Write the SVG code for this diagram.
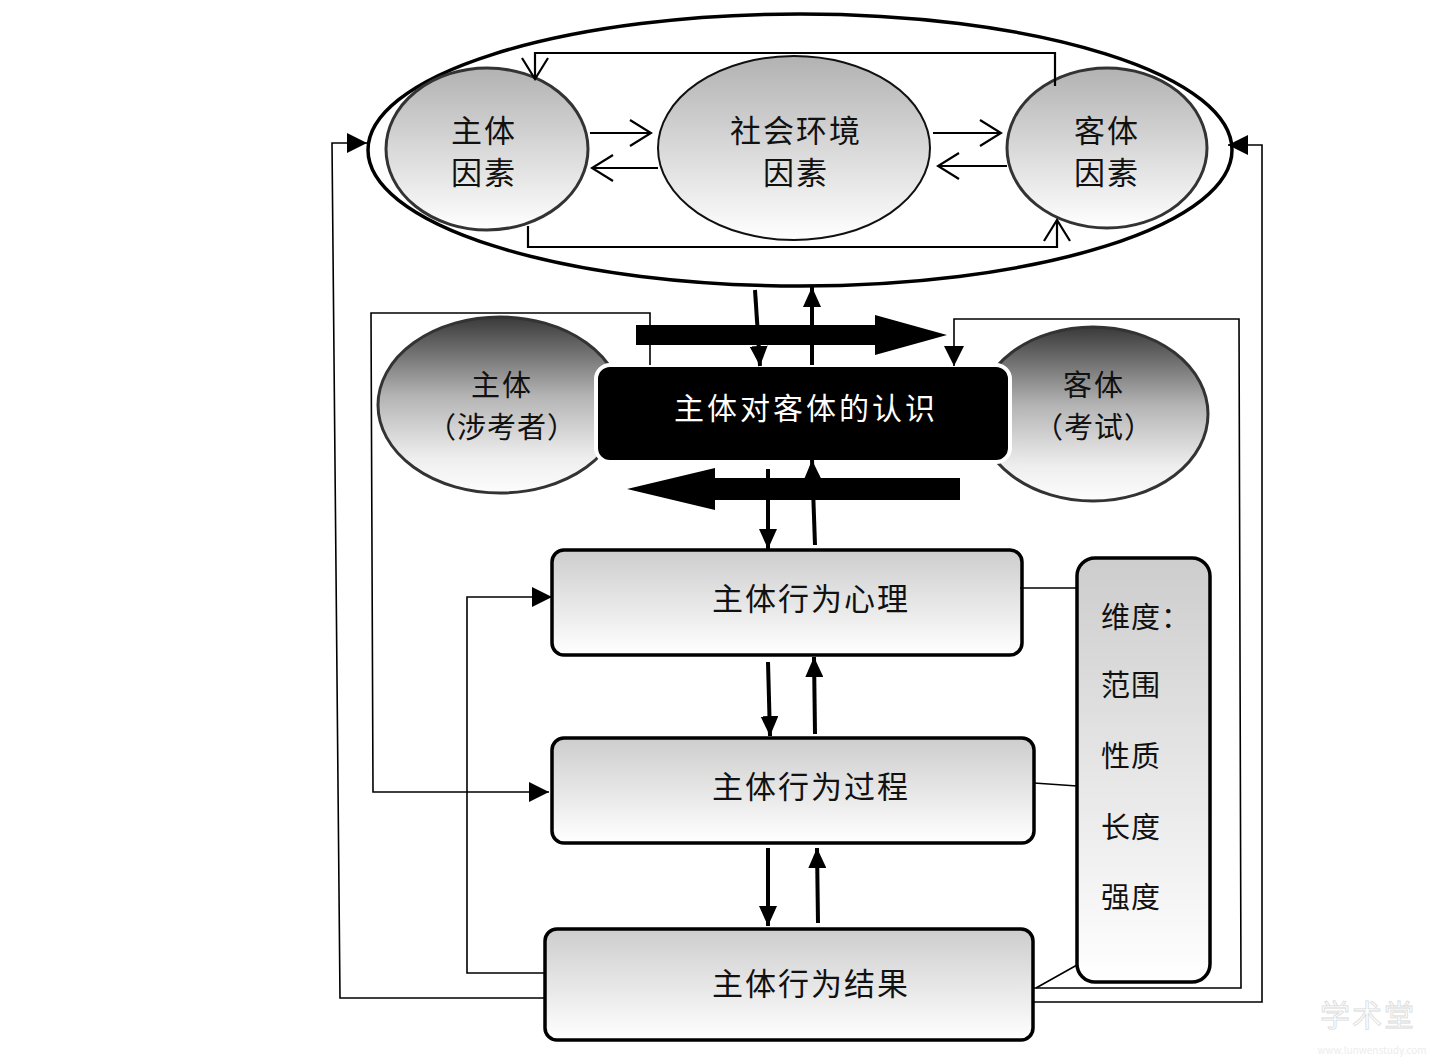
<svg xmlns="http://www.w3.org/2000/svg" width="1454" height="1060" viewBox="0 0 1454 1060">
<style>
.t{font-family:"Noto Sans CJK SC","Noto Sans",sans-serif;fill:#111;text-anchor:middle}
.tl{font-family:"Noto Sans CJK SC","Noto Sans",sans-serif;fill:#111}
.thin{fill:none;stroke:#000;stroke-width:1.6}
.mid{fill:none;stroke:#000;stroke-width:2.2}
.bold{fill:none;stroke:#000;stroke-width:4}
.box{stroke:#000;stroke-width:3.5;fill:url(#gBox)}
</style>
<defs>
<linearGradient id="gTop" x1="0" y1="0" x2="0" y2="1"><stop offset="0" stop-color="#b2b2b2"/><stop offset="1" stop-color="#ffffff"/></linearGradient>
<linearGradient id="gDark" x1="0" y1="0" x2="0" y2="1"><stop offset="0" stop-color="#3a3a3a"/><stop offset="0.45" stop-color="#b4b4b4"/><stop offset="0.8" stop-color="#eeeeee"/><stop offset="1" stop-color="#fdfdfd"/></linearGradient>
<linearGradient id="gBox" x1="0" y1="0" x2="0" y2="1"><stop offset="0" stop-color="#cdcdcd"/><stop offset="1" stop-color="#ffffff"/></linearGradient>
<marker id="oa" markerUnits="userSpaceOnUse" viewBox="0 0 24 28" refX="22" refY="14" markerWidth="24" markerHeight="28" orient="auto"><path d="M1,1 L22,14 L1,27" fill="none" stroke="#000" stroke-width="2.2"/></marker>
<marker id="fa" markerUnits="userSpaceOnUse" viewBox="0 0 20 20" refX="20" refY="10" markerWidth="20" markerHeight="20" orient="auto"><path d="M0,0 L20,10 L0,20 Z" fill="#000"/></marker>
<marker id="fb" markerUnits="userSpaceOnUse" viewBox="0 0 20 18" refX="20" refY="9" markerWidth="20" markerHeight="18" orient="auto"><path d="M0,0 L20,9 L0,18 Z" fill="#000"/></marker>
</defs>
<rect width="1454" height="1060" fill="#fff"/>

<g id="outer-env">
<ellipse cx="800" cy="150" rx="432" ry="136" fill="none" stroke="#000" stroke-width="3.5"/>
</g>
<g id="node-subject-factor">
<ellipse cx="487" cy="149" rx="101" ry="81" fill="url(#gTop)" stroke="#333" stroke-width="3"/>
<text class="t" x="484" y="142" font-size="31" letter-spacing="2">主体</text>
<text class="t" x="484" y="184" font-size="31" letter-spacing="2">因素</text>
</g>
<g id="node-social-factor">
<ellipse cx="794" cy="148" rx="136" ry="92" fill="url(#gTop)" stroke="#111" stroke-width="2"/>
<text class="t" x="796" y="142" font-size="31" letter-spacing="2">社会环境</text>
<text class="t" x="796" y="184" font-size="31" letter-spacing="2">因素</text>
</g>
<g id="node-object-factor">
<ellipse cx="1107" cy="148" rx="100" ry="80" fill="url(#gTop)" stroke="#333" stroke-width="3"/>
<text class="t" x="1107" y="142" font-size="31" letter-spacing="2">客体</text>
<text class="t" x="1107" y="184" font-size="31" letter-spacing="2">因素</text>
</g>

<g id="node-subject">
<ellipse cx="500" cy="405" rx="122" ry="88" fill="url(#gDark)" stroke="#333" stroke-width="3"/>
<text class="t" x="502" y="396" font-size="29" letter-spacing="2">主体</text>
<text class="t" x="502" y="438" font-size="29" letter-spacing="1">（涉考者）</text>
</g>
<g id="node-object">
<ellipse cx="1093" cy="414" rx="115" ry="87" fill="url(#gDark)" stroke="#333" stroke-width="3"/>
<text class="t" x="1094" y="396" font-size="29" letter-spacing="2">客体</text>
<text class="t" x="1094" y="438" font-size="29" letter-spacing="1">（考试）</text>
</g>
<g id="node-cognition">
<rect x="596" y="365" width="414" height="97" rx="14" fill="#000" stroke="#fff" stroke-width="4"/>
<text class="t" x="806" y="419" font-size="30" letter-spacing="3" style="fill:#fff">主体对客体的认识</text>
</g>

<g id="node-psychology">
<rect class="box" x="552" y="550" width="470" height="105" rx="12"/>
<text class="t" x="811" y="610" font-size="31" letter-spacing="2">主体行为心理</text>
</g>
<g id="node-process">
<rect class="box" x="552" y="738" width="482" height="105" rx="12"/>
<text class="t" x="811" y="798" font-size="31" letter-spacing="2">主体行为过程</text>
</g>
<g id="node-result">
<rect class="box" x="545" y="929" width="488" height="111" rx="12"/>
<text class="t" x="811" y="995" font-size="31" letter-spacing="2">主体行为结果</text>
</g>
<g id="node-dimension">
<rect class="box" x="1077" y="558" width="133" height="424" rx="18"/>
<text class="tl" x="1101" y="628" font-size="29" letter-spacing="1">维度：</text>
<text class="tl" x="1101" y="696" font-size="29" letter-spacing="1">范围</text>
<text class="tl" x="1101" y="767" font-size="29" letter-spacing="1">性质</text>
<text class="tl" x="1101" y="838" font-size="29" letter-spacing="1">长度</text>
<text class="tl" x="1101" y="908" font-size="29" letter-spacing="1">强度</text>
</g>

<g id="connectors">
<path class="mid" d="M1055,86 V53 H535 V79" marker-end="url(#oa)"/>
<path class="mid" d="M528,226 V247 H1057 V220" marker-end="url(#oa)"/>
<path class="mid" d="M590,133 H651" marker-end="url(#oa)"/>
<path class="mid" d="M658,168 H592" marker-end="url(#oa)"/>
<path class="mid" d="M933,133 H1001" marker-end="url(#oa)"/>
<path class="mid" d="M1007,166 H938" marker-end="url(#oa)"/>

<path d="M636,325 H875 V315 L947,335 L875,355 V345 H636 Z" fill="#000"/>
<path d="M960,478 H715 V468 L627,489 L715,510 V500 H960 Z" fill="#000"/>

<path class="bold" d="M755,290 L760,366" marker-end="url(#fb)"/>
<path class="bold" d="M812,365 L812,287" marker-end="url(#fb)"/>
<path class="bold" d="M768,469 L768,549" marker-end="url(#fb)"/>
<path class="bold" d="M815,545 L812,460" marker-end="url(#fb)"/>
<path class="bold" d="M768,662 L770,736" marker-end="url(#fb)"/>
<path class="bold" d="M815,734 L814,657" marker-end="url(#fb)"/>
<path class="bold" d="M768,848 L768,926" marker-end="url(#fb)"/>
<path class="bold" d="M818,923 L817,848" marker-end="url(#fb)"/>

<path class="thin" d="M650,365 V313 H371 L373,792 H549" marker-end="url(#fa)"/>
<path class="thin" d="M545,973 H467 V597 H552" marker-end="url(#fa)"/>
<path class="thin" d="M545,998 H340 L332,143 H367" marker-end="url(#fa)"/>
<path class="thin" d="M1033,988 H1241 L1239,319 H954 V366" marker-end="url(#fa)"/>
<path class="thin" d="M1033,1002 H1262 V145 H1228" marker-end="url(#fa)"/>
<path class="thin" d="M1020,588 H1077"/>
<path class="thin" d="M1034,783 L1077,786"/>
<path class="thin" d="M1036,988 L1077,965"/>
</g>

<g id="watermark" opacity="0.55">
<text class="t" x="1368" y="1026" font-size="30" letter-spacing="2" style="fill:#fff;stroke:#bbb;stroke-width:0.8">学术堂</text>
<text class="t" x="1372" y="1054" font-size="10" style="fill:#ddd">www.lunwenstudy.com</text>
</g>
</svg>
